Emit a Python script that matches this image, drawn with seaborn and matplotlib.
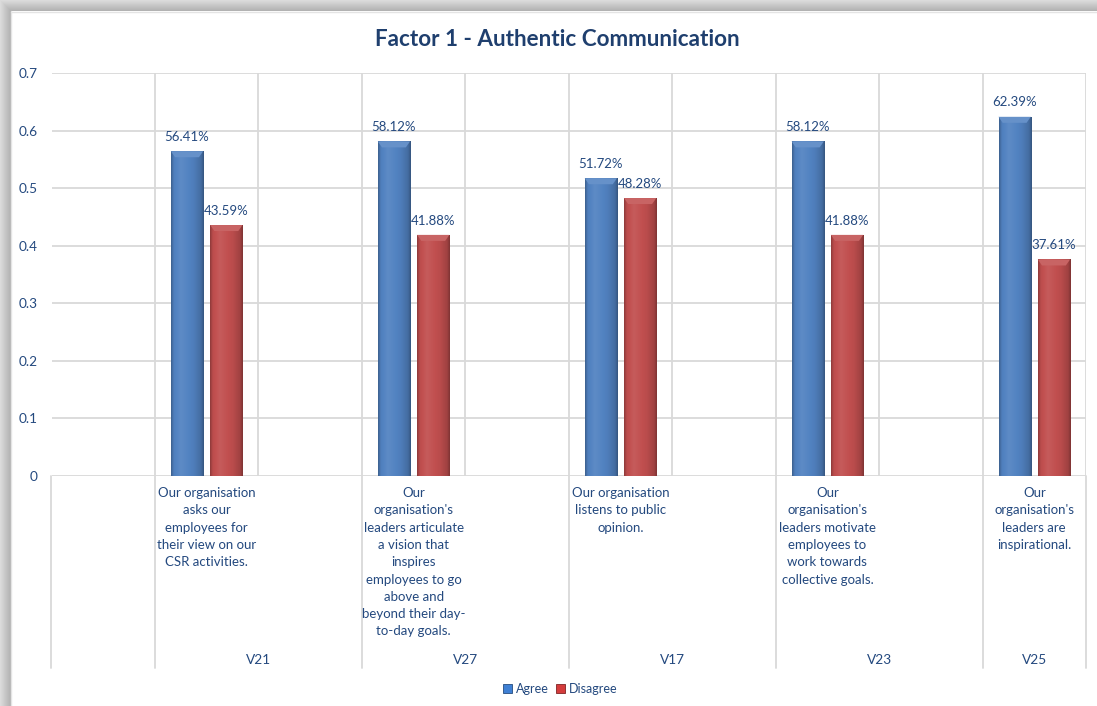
import numpy as np
import pandas as pd
import matplotlib
matplotlib.use("Agg")
import matplotlib.pyplot as plt
import seaborn as sns
from matplotlib.patches import Patch, Polygon
from matplotlib.colors import to_rgb

# ---- data -------------------------------------------------------------
codes = ["V21", "V27", "V17", "V23", "V25"]
statements = [
    "Our organisation\nasks our\nemployees for\ntheir view on our\nCSR activities.",
    "Our\norganisation's\nleaders articulate\na vision that\ninspires\nemployees to go\nabove and\nbeyond their day-\nto-day goals.",
    "Our organisation\nlistens to public\nopinion.",
    "Our\norganisation's\nleaders motivate\nemployees to\nwork towards\ncollective goals.",
    "Our\norganisation's\nleaders are\ninspirational.",
]
agree = [0.5641, 0.5812, 0.5172, 0.5812, 0.6239]
disagree = [0.4359, 0.4188, 0.4828, 0.4188, 0.3761]
series = ["Agree", "Disagree"]
yticks = [0, 0.1, 0.2, 0.3, 0.4, 0.5, 0.6, 0.7]
title = "Factor 1 - Authentic Communication"

NAVY = "#24497f"
GRID = "#d9d9d9"
COLORS = {"Agree": "#3f80d4", "Disagree": "#d43c3c"}

# ---- layout of category slots ------------------------------------------
# a blank lead slot, then each statement followed by a spacer slot
n_slots = 2 * len(codes)
slot_names = [f"s{i}" for i in range(n_slots)]
q_slot = [2 * i + 1 for i in range(len(codes))]

rows = []
for i, s in enumerate(q_slot):
    rows.append({"slot": slot_names[s], "Response": "Agree", "value": agree[i]})
    rows.append({"slot": slot_names[s], "Response": "Disagree", "value": disagree[i]})
df = pd.DataFrame(rows)

sns.set_theme(style="white")
plt.rcParams["font.family"] = ["Lato", "DejaVu Sans"]

W, H = 1097, 706
fig = plt.figure(figsize=(W / 100, H / 100), dpi=100)

# ---- chart-area drop shadow ---------------------------------------------
bg = fig.add_axes([0, 0, 1, 1], zorder=-5)
bg.set_xlim(0, W)
bg.set_ylim(H, 0)
bg.axis("off")
shade_top = np.linspace(0.86, 0.70, 11)
top_img = np.repeat(shade_top[:, None], 4, axis=1)
bg.imshow(np.dstack([top_img] * 3), extent=[11, W, 11, 0], aspect="auto",
          interpolation="bilinear")
left_img = np.repeat(shade_top[None, :], 4, axis=0)
bg.imshow(np.dstack([left_img] * 3), extent=[0, 11, H, 11], aspect="auto",
          interpolation="bilinear")
bg.imshow(np.dstack([np.maximum.outer(shade_top, shade_top)] * 3),
          extent=[0, 11, 11, 0], aspect="auto", interpolation="bilinear")
bg.plot([11, W], [11.5, 11.5], color="#e4e4e4", lw=1)
bg.plot([10.5, 10.5], [11, H], color="#e4e4e4", lw=1)

# ---- main plot area -------------------------------------------------------
left, right, top, bottom = 51.5, 1086, 73, 476
ax = fig.add_axes([left / W, 1 - bottom / H, (right - left) / W, (bottom - top) / H])

sns.barplot(data=df, x="slot", y="value", hue="Response", order=slot_names,
            hue_order=series, palette=COLORS, width=0.76, gap=0.18,
            edgecolor="none", linewidth=0, errorbar=None, legend=False,
            ax=ax, zorder=3)


def shade(c, f):
    r = np.array(to_rgb(c))
    if f >= 1:
        return r + (1 - r) * (f - 1)
    return r * f


# bevelled gradient look on each bar
bar_px_h = (bottom - top) / 0.7
bars = [p for p in ax.patches if np.isfinite(p.get_height()) and p.get_height() > 0]
for patch in bars:
    x0, y0 = patch.get_x(), patch.get_y()
    w, h = patch.get_width(), patch.get_height()
    base = patch.get_facecolor()[:3]
    prof = np.interp(np.linspace(0, 1, 64), [0, 0.08, 0.3, 0.7, 0.92, 1.0],
                     [0.74, 0.97, 1.07, 0.96, 0.83, 0.66])
    col = np.array([shade(base, f) for f in prof])
    img = np.repeat(col[None, :, :], 2, axis=0)
    im = ax.imshow(np.clip(img, 0, 1), extent=[x0, x0 + w, y0, y0 + h],
                   aspect="auto", interpolation="bilinear", zorder=4)
    im.set_clip_path(patch)
    patch.set_edgecolor(shade(base, 0.6))
    patch.set_linewidth(0.6)
    # top bevel
    bh = 6 / bar_px_h
    dx = w * 0.13
    top_y = y0 + h
    bevel = Polygon([[x0, top_y], [x0 + w, top_y], [x0 + w - dx, top_y - bh],
                     [x0 + dx, top_y - bh]], closed=True,
                    facecolor=shade(base, 1.12), edgecolor="none", zorder=5)
    ax.add_patch(bevel)

ax.set_xlim(-0.5, n_slots - 0.5)
ax.set_ylim(0, 0.7)

# data labels
for p in bars:
    h = p.get_height()
    ax.annotate(f"{h * 100:.2f}%", (p.get_x() + p.get_width() / 2, h),
                xytext=(0, 6), textcoords="offset points", ha="center",
                va="bottom", fontsize=9.5, color=NAVY, zorder=6)

# grid
ax.vlines(np.arange(-0.5, n_slots, 1.0), 0, 0.7, color=GRID, lw=1.3, zorder=0)
ax.hlines(yticks, -0.5, n_slots - 0.5, color=GRID, lw=1.3, zorder=0)
for s in ax.spines.values():
    s.set_visible(False)

ax.set_yticks(yticks)
ax.set_yticklabels([f"{t:g}" for t in yticks], color=NAVY, fontsize=9.8)
ax.tick_params(axis="y", length=0, pad=10)
ax.set_xticks([])
ax.set_xlabel("")
ax.set_ylabel("")

# two-level category axis
xt = ax.get_xaxis_transform()
span = bottom - top
lower = -(668 - bottom) / span
for xb in [-0.5, 0.5, 2.5, 4.5, 6.5, 8.5, 9.5]:
    ax.plot([xb, xb], [0, lower], transform=xt, color=GRID, lw=1.3,
            clip_on=False, zorder=0)
for i, s in enumerate(q_slot):
    ax.text(s, -(487 - bottom) / span, statements[i], transform=xt, ha="center",
            va="top", fontsize=9.5, color=NAVY, linespacing=1.53)
    g0 = s - 0.5
    g1 = min(s + 1.5, n_slots - 0.5)
    ax.text((g0 + g1) / 2, -(660 - bottom) / span, codes[i],
            transform=xt, ha="center", va="center", fontsize=9.8, color=NAVY)

fig.text(557 / W, 1 - 40 / H, title, ha="center", va="center", fontsize=16.2,
         fontweight="bold", color="#1f3f6e")

handles = [Patch(facecolor=COLORS[s], edgecolor=shade(COLORS[s], 0.6), lw=0.6)
           for s in series]
fig.legend(handles, series, loc="center", bbox_to_anchor=(560 / W, 1 - 689 / H),
           ncol=2, frameon=False, fontsize=9, handlelength=0.7,
           handleheight=0.7, handletextpad=0.3, columnspacing=0.6,
           labelcolor=NAVY)

fig.savefig("out.png", dpi=100)
